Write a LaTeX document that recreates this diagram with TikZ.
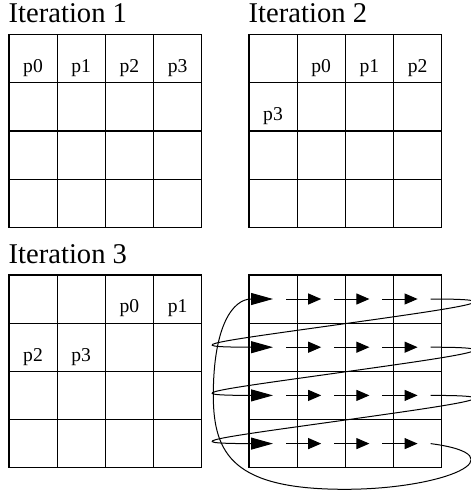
\documentclass[tikz,border=0pt]{standalone}
\usepackage{fontspec}
\setmainfont{Liberation Serif}
\usepackage{tikz}
\usetikzlibrary{calc,arrows.meta,positioning}

\begin{document}
\begin{tikzpicture}[x=0.5pt, y=-0.5pt,
      cell/.style={draw, line width=0.6pt, minimum size=24.1pt, inner sep=0pt, anchor=north west},
      heading/.style={anchor=base west, inner sep=0pt, font=\fontsize{14.3}{16}\selectfont},
      plab/.style={anchor=base, inner sep=0pt, font=\fontsize{9.8}{11}\selectfont},
      hop/.style={line width=0.5pt, -{Triangle[length=6.5pt, width=5.5pt]}},
      wrap/.style={line width=0.5pt, -{Triangle[length=11pt, width=6pt]}}]
    \useasboundingbox (0,0) rectangle (470,491);
    % four 4x4 grids
    \foreach \gx/\gy/\g in {8.3/34/a, 248.3/34/b, 8.3/274.3/c, 248.3/274.3/d} {
      \foreach \r in {0,...,3}
        \foreach \c in {0,...,3}
          \node[cell] (\g-\r-\c) at ({\gx+48.2*\c}, {\gy+48.2*\r}) {};
    }
    \node[heading] (t-a) at ($(a-0-0.north west)+(0,-11)$) {Iteration 1};
    \node[heading] (t-b) at ($(b-0-0.north west)+(0,-11)$) {Iteration 2};
    \node[heading] (t-c) at ($(c-0-0.north west)+(0,-11)$) {Iteration 3};
    % processor labels
    \foreach \g/\r/\c/\p in {a/0/0/p0, a/0/1/p1, a/0/2/p2, a/0/3/p3,
                             b/0/1/p0, b/0/2/p1, b/0/3/p2, b/1/0/p3,
                             c/0/2/p0, c/0/3/p1, c/1/0/p2, c/1/1/p3}
      \node[plab] (l-\g-\p) at ($(\g-\r-\c.north)+(0,38.5)$) {\p};
    % traversal order
    \foreach \r in {0,...,3} {
      \foreach \c/\n in {0/1, 1/2, 2/3}
        \draw[hop] ($(d-\r-\c.center)+(13,0)$) -- (d-\r-\n.center);
      \coordinate (s-\r) at ($(d-\r-3.center)+(13,0)$);
    }
    \foreach \r/\n in {0/1, 1/2, 2/3}
      \draw[wrap] (s-\r) .. controls +(86,0) and +(125,-17.5) .. (d-\r-2.south west)
                         .. controls +(-125,17.5) and +(-102,0) .. (d-\n-0.center);
    \coordinate (low) at ($(d-3-2.south west)+(0,21)$);
    \coordinate (side) at ($(d-2-0.west)+(-35,0)$);
    \draw[wrap] (s-3) .. controls +(91,12) and +(100,0) .. (low)
                      .. controls +(-110,0) and +(0,60) .. (side)
                      .. controls +(0,-70) and +(-40,0) .. (d-0-0.center);
  \end{tikzpicture}
\end{document}
